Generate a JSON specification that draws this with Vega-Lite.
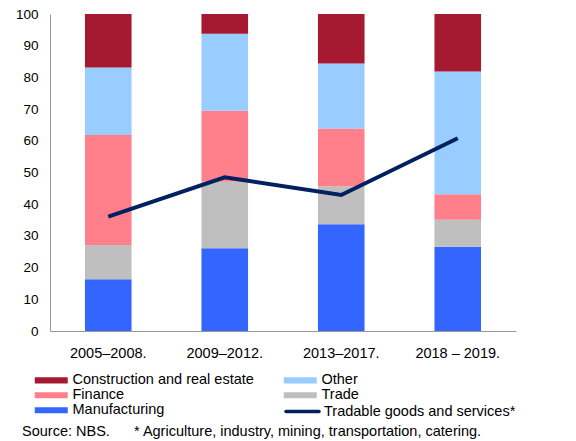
{
  "$schema": "https://vega.github.io/schema/vega-lite/v6.json",
  "width": 466,
  "height": 317,
  "autosize": {"type": "none"},
  "padding": {"left": 50, "top": 14, "right": 60, "bottom": 110},
  "background": "white",
  "config": {
    "font": "Liberation Sans",
    "view": {"stroke": null}
  },
  "title": {
    "text": "Source: NBS.\u00a0\u00a0\u00a0\u00a0\u00a0\u00a0* Agriculture, industry, mining, transportation, catering.",
    "orient": "bottom",
    "anchor": "start",
    "frame": "group",
    "dx": -28,
    "offset": 6,
    "fontSize": 14.5,
    "fontWeight": "normal",
    "color": "black"
  },
  "datasets": {
    "bars": [
      {"period": "2005–2008.", "sector": "Manufacturing", "value": 16.3, "k": 1},
      {"period": "2005–2008.", "sector": "Trade", "value": 10.8, "k": 2},
      {"period": "2005–2008.", "sector": "Finance", "value": 34.7, "k": 3},
      {"period": "2005–2008.", "sector": "Other", "value": 21.3, "k": 4},
      {"period": "2005–2008.", "sector": "Construction and real estate", "value": 16.9, "k": 5},
      {"period": "2009–2012.", "sector": "Manufacturing", "value": 26.1, "k": 1},
      {"period": "2009–2012.", "sector": "Trade", "value": 21.0, "k": 2},
      {"period": "2009–2012.", "sector": "Finance", "value": 22.4, "k": 3},
      {"period": "2009–2012.", "sector": "Other", "value": 24.3, "k": 4},
      {"period": "2009–2012.", "sector": "Construction and real estate", "value": 6.2, "k": 5},
      {"period": "2013–2017.", "sector": "Manufacturing", "value": 33.7, "k": 1},
      {"period": "2013–2017.", "sector": "Trade", "value": 12.0, "k": 2},
      {"period": "2013–2017.", "sector": "Finance", "value": 18.2, "k": 3},
      {"period": "2013–2017.", "sector": "Other", "value": 20.5, "k": 4},
      {"period": "2013–2017.", "sector": "Construction and real estate", "value": 15.6, "k": 5},
      {"period": "2018 – 2019.", "sector": "Manufacturing", "value": 26.6, "k": 1},
      {"period": "2018 – 2019.", "sector": "Trade", "value": 8.5, "k": 2},
      {"period": "2018 – 2019.", "sector": "Finance", "value": 8.0, "k": 3},
      {"period": "2018 – 2019.", "sector": "Other", "value": 38.8, "k": 4},
      {"period": "2018 – 2019.", "sector": "Construction and real estate", "value": 18.1, "k": 5}
    ],
    "line": [
      {"period": "2005–2008.", "share": 36.1, "series": "Tradable goods and services*"},
      {"period": "2009–2012.", "share": 48.5, "series": "Tradable goods and services*"},
      {"period": "2013–2017.", "share": 42.9, "series": "Tradable goods and services*"},
      {"period": "2018 – 2019.", "share": 60.8, "series": "Tradable goods and services*"}
    ]
  },
  "encoding": {
    "x": {
      "field": "period",
      "type": "nominal",
      "sort": null,
      "title": null,
      "scale": {"paddingInner": 0.6, "paddingOuter": 0.3},
      "axis": {
        "labelAngle": 0,
        "labelFontSize": 14.5,
        "labelColor": "black",
        "ticks": false,
        "labelPadding": 15,
        "domainColor": "#999999",
        "domainWidth": 1
      }
    }
  },
  "layer": [
    {
      "data": {"name": "bars"},
      "mark": {"type": "bar"},
      "encoding": {
        "y": {
          "field": "value",
          "type": "quantitative",
          "stack": "zero",
          "title": null,
          "scale": {"domain": [0, 100], "nice": false},
          "axis": {
            "values": [0, 10, 20, 30, 40, 50, 60, 70, 80, 90, 100],
            "grid": false,
            "ticks": false,
            "labelFontSize": 13.5,
            "labelColor": "black",
            "labelPadding": 12,
            "domainColor": "#999999"
          }
        },
        "order": {"field": "k", "type": "quantitative"},
        "color": {
          "field": "sector",
          "type": "nominal",
          "scale": {
            "domain": ["Construction and real estate", "Finance", "Manufacturing", "Other", "Trade"],
            "range": ["#A51931", "#FF808B", "#3366FF", "#99CCFF", "#BFBFBF"]
          },
          "legend": {
            "title": null,
            "orient": "none",
            "legendX": -17,
            "legendY": 359,
            "columns": 2,
            "columnPadding": 28,
            "rowPadding": 0,
            "symbolType": "M-1,-0.55H5V0.55H-1Z",
            "symbolSize": 121,
            "symbolStrokeWidth": 0,
            "labelFontSize": 14.5,
            "labelColor": "black",
            "labelOffset": 25,
            "labelLimit": 300
          }
        }
      }
    },
    {
      "data": {"name": "line"},
      "mark": {"type": "line", "strokeWidth": 4},
      "encoding": {
        "y": {
          "field": "share",
          "type": "quantitative",
          "axis": {
            "values": [0, 10, 20, 30, 40, 50, 60, 70, 80, 90, 100],
            "grid": false,
            "ticks": false,
            "labelFontSize": 13.5,
            "labelColor": "black",
            "labelPadding": 12,
            "domainColor": "#999999"
          }
        },
        "stroke": {
          "field": "series",
          "type": "nominal",
          "scale": {"range": ["#002060"]},
          "legend": {
            "title": null,
            "orient": "none",
            "legendX": 234,
            "legendY": 390,
            "symbolType": "M-1,0H5",
            "symbolSize": 121,
            "symbolStrokeWidth": 3.5,
            "symbolFillColor": "transparent",
            "labelFontSize": 14.5,
            "labelColor": "black",
            "labelOffset": 25,
            "labelLimit": 300,
            "encode": {"symbols": {"update": {"strokeCap": {"value": "round"}}}}
          }
        }
      }
    }
  ]
}
